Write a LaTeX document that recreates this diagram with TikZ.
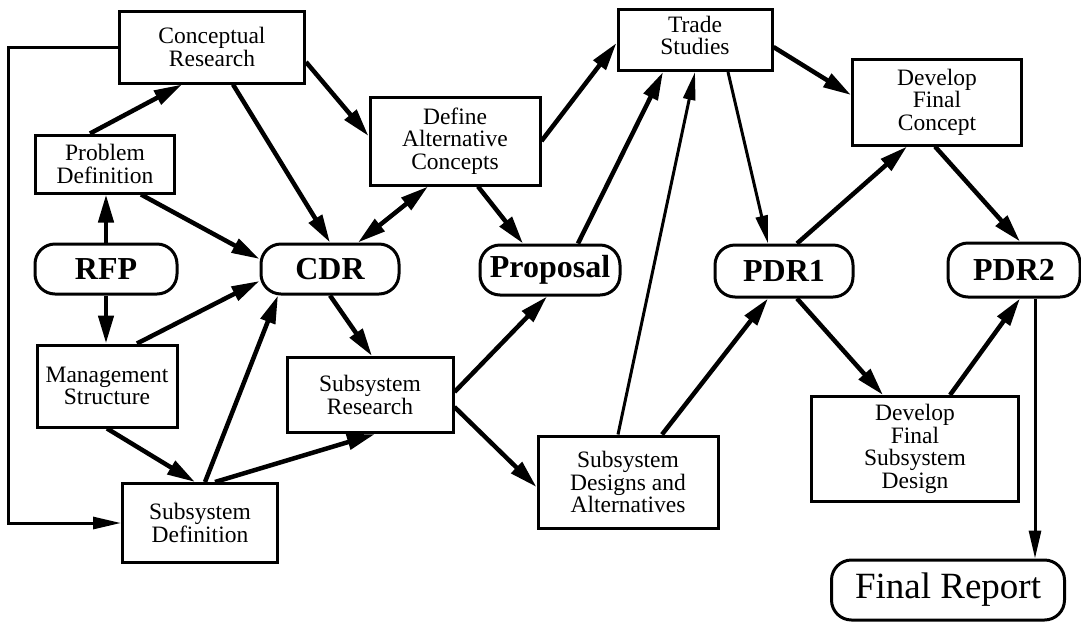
\documentclass[tikz,border=0pt]{standalone}
\usepackage{fontspec}
\setmainfont{Liberation Serif}
\usetikzlibrary{arrows.meta}

\begin{document}
\begin{tikzpicture}[x=1pt, y=-1pt, >={Triangle[length=28pt,width=15pt]},
  box/.style={draw, line width=3pt, align=center, inner sep=0pt, font=\fontsize{23.5}{22.5}\selectfont},
  review/.style={draw, line width=3pt, rounded corners=20pt, inner sep=0pt, minimum height=50pt, font=\fontsize{32}{32}\selectfont\bfseries},
  link/.style={line width=4.5pt, ->},
  thinlink/.style={line width=3pt, -{Triangle[length=28pt,width=12pt]}}]
\useasboundingbox (0,0) rectangle (1081,622);
\node[box, minimum width=185pt, minimum height=72pt] (cr) at (212,47) {Conceptual\\Research};
\node[box, minimum width=139pt, minimum height=58pt] (pd) at (105,164) {Problem\\Definition};
\node[review, minimum width=142pt] (rfp) at (106,269) {RFP};
\node[review, minimum width=138pt] (cdr) at (330,269) {CDR};
\node[box, minimum width=140pt, minimum height=82pt] (ms) at (107,386) {Management\\Structure};
\node[box, minimum width=155pt, minimum height=79pt] (sd) at (200,523) {Subsystem\\Definition};
\node[box, minimum width=166pt, minimum height=75pt] (sr) at (370,395) {Subsystem\\Research};
\node[box, minimum width=170pt, minimum height=88pt] (dac) at (455,141) {Define\\Alternative\\Concepts};
\node[box, minimum width=154pt, minimum height=61pt, text depth=9pt] (ts) at (695,40) {Trade\\Studies};
\node[review, minimum width=140pt] (prop) at (550,270) {Proposal};
\node[box, minimum width=180pt, minimum height=92pt] (sda) at (628,482) {Subsystem\\Designs and\\Alternatives};
\node[box, minimum width=169pt, minimum height=86pt] (dfc) at (937,102) {Develop\\Final\\Concept};
\node[review, minimum width=138pt, minimum height=52pt] (pdr1) at (784,271) {PDR1};
\node[review, minimum width=132pt, minimum height=54pt] (pdr2) at (1014,270) {PDR2};
\node[box, minimum width=207pt, minimum height=105pt] (dfsd) at (915,449) {Develop\\Final\\Subsystem\\Design};
\node[review, minimum width=233pt, minimum height=60pt, font=\fontsize{37}{37}\selectfont] (fr) at (948,590) {Final Report};

\draw[link] ([xshift=-15pt]pd.north) -- ([xshift=-30pt]cr.south);
\draw[link] ([xshift=21pt]cr.south) -- (cdr.north);
\draw[link] ([yshift=-15pt]cr.east) -- ([yshift=5pt]dac.west);
\draw[link] ([xshift=-35pt]pd.south east) -- ([yshift=10pt]cdr.west);
\draw[link] (rfp.north) -- (rfp.north |- pd.south);
\draw[link] (rfp.south) -- (rfp.south |- ms.north);
\draw[link] ([xshift=30pt]ms.north) -- ([yshift=-12pt]cdr.west);
\draw[link] (ms.south) -- ([xshift=-5pt]sd.north);
\draw[link] ([xshift=5pt]sd.north) -- ([xshift=-52pt]cdr.south);
\draw[link] ([xshift=15pt]sd.north) -- ([xshift=5pt]sr.south);
\draw[link] (cdr.south) -- ([xshift=2pt]sr.north);
\draw[link, <->] ([xshift=-27pt]dac.south) -- ([xshift=28pt]cdr.north);
\draw[link] ([xshift=23pt]dac.south) -- ([xshift=-27pt]prop.north);
\draw[link] (dac.east) -- ([yshift=-3pt]ts.west);
\draw[link] ([xshift=28pt]prop.north) -- ([xshift=-32pt]ts.south);
\draw[thinlink] ([xshift=-10pt]sda.north) -- (ts.south);
\draw[link] ([yshift=3pt]sr.east) -- ([xshift=-3pt]prop.south);
\draw[link] ([yshift=-12pt]sr.east) -- ([yshift=-5pt]sda.west);
\draw[link] ([xshift=34pt]sda.north) -- ([xshift=-16pt]pdr1.south);
\draw[thinlink] ([xshift=33pt]ts.south) -- ([xshift=-16pt]pdr1.north);
\draw[link] ([yshift=-7pt]ts.east) -- ([yshift=7pt]dfc.west);
\draw[link] ([xshift=13pt]pdr1.north) -- ([xshift=-30pt]dfc.south);
\draw[link] ([xshift=-2pt]dfc.south) -- ([xshift=6pt]pdr2.north);
\draw[link] ([xshift=13pt]pdr1.south) -- ([xshift=-32pt]dfsd.north);
\draw[link] ([xshift=35pt]dfsd.north) -- ([xshift=6pt]pdr2.south);
\draw[thinlink] ([xshift=21pt]pdr2.south) -- ([xshift=21pt]pdr2.south |- fr.north);
\draw[thinlink] (cr.west) -- ++(-110,0) |- (sd.west);
\end{tikzpicture}
\end{document}
